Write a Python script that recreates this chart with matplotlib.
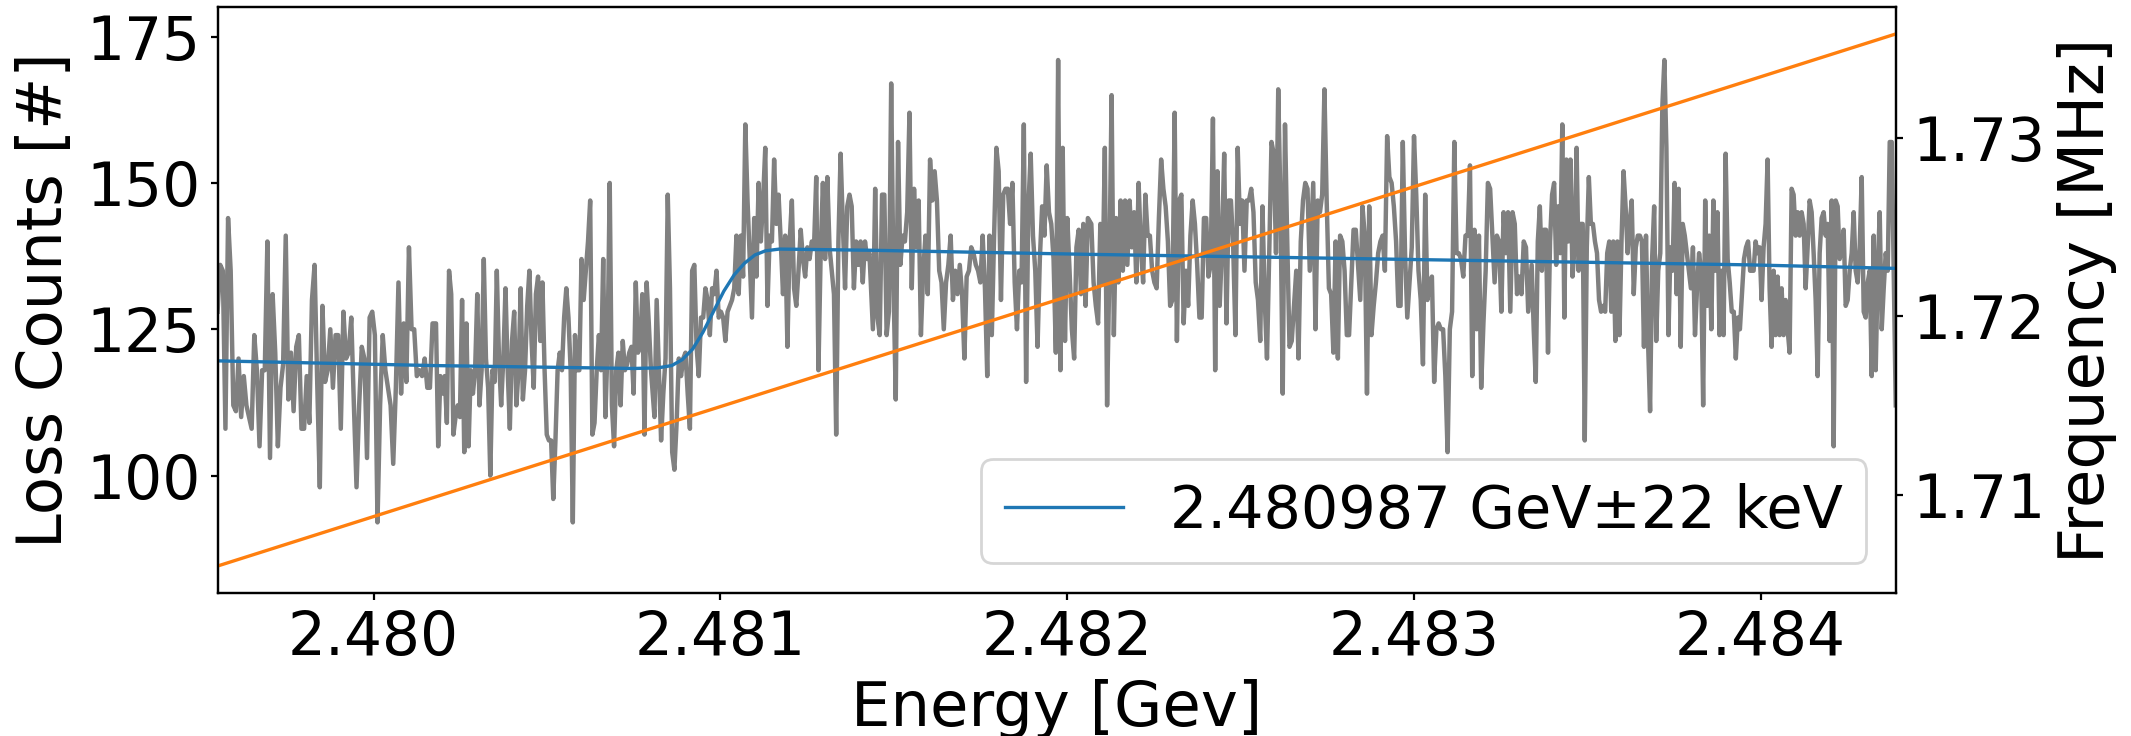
import numpy as np
import matplotlib
matplotlib.use("Agg")
import matplotlib.pyplot as plt
from matplotlib.ticker import FormatStrFormatter

# measured loss counts, read in 8 consecutive energy windows [GeV]
seg_bounds = [(2.47955, 2.48017), (2.48018, 2.48080), (2.48081, 2.48143), (2.48144, 2.48206),
              (2.48207, 2.48270), (2.48271, 2.48333), (2.48334, 2.48397), (2.48398, 2.48439)]

counts_1 = [128, 136, 135, 108, 144, 135, 112, 111, 120, 110, 117, 112, 110, 108, 124, 118, 105, 118, 118, 140,
            103, 131, 121, 105, 115, 119, 141, 113, 121, 111, 122, 124, 108, 108, 117, 109, 130, 136, 116, 98,
            129, 116, 118, 125, 115, 124, 124, 108, 128, 120, 121, 127, 112, 98, 112, 122, 120, 103, 127, 128,
            124, 92, 112, 124, 118, 115, 112, 102, 115, 133, 114, 126, 116, 139, 125, 125, 117, 118, 117, 120,
            115, 115, 126]
counts_2 = [126, 105, 117, 114, 117, 109, 135, 131, 107, 110, 112, 110, 130, 104, 126, 105, 118, 114, 118, 131,
            112, 118, 137, 120, 115, 100, 118, 116, 135, 120, 112, 120, 132, 118, 108, 123, 128, 112, 118, 132,
            113, 118, 129, 135, 123, 115, 131, 134, 123, 133, 118, 107, 106, 106, 96, 106, 118, 121, 118, 127,
            132, 127, 118, 92, 124, 118, 118, 137, 130, 135, 140, 147, 107, 109, 118, 124, 118, 137, 110, 122,
            150, 112, 105, 118, 121, 112, 123, 118, 119, 121, 122, 114, 133, 121, 122, 131, 107, 133, 126, 118]
counts_3 = [110, 130, 118, 106, 114, 120, 148, 132, 104, 101, 109, 120, 117, 120, 121, 114, 108, 135, 136, 122,
            117, 127, 127, 132, 130, 124, 132, 131, 135, 127, 128, 127, 123, 128, 129, 130, 132, 141, 131, 141,
            134, 160, 147, 137, 127, 144, 134, 150, 140, 147, 156, 129, 141, 140, 154, 143, 148, 140, 131, 141,
            122, 140, 147, 132, 129, 135, 142, 137, 134, 139, 137, 140, 139, 151, 118, 138, 150, 137, 151, 139,
            135, 131, 107, 140, 155, 143, 132, 146, 148, 146, 132, 140, 136, 140, 133, 140, 137, 138]
counts_4 = [125, 149, 127, 124, 148, 148, 124, 128, 167, 133, 113, 157, 136, 141, 140, 145, 162, 132, 149, 139,
            147, 124, 135, 141, 131, 154, 147, 152, 147, 135, 133, 125, 133, 136, 141, 130, 135, 131, 136, 131,
            120, 134, 135, 139, 138, 136, 135, 133, 141, 132, 117, 141, 124, 141, 156, 152, 130, 148, 149, 149,
            143, 150, 133, 125, 135, 133, 160, 116, 146, 155, 141, 135, 122, 137, 146, 141, 153, 145, 143, 137,
            121, 171, 118, 156, 123, 144, 135, 125, 120, 139, 142, 131, 143, 129, 144]
counts_5 = [143, 133, 129, 126, 143, 133, 156, 112, 135, 165, 124, 144, 133, 147, 135, 147, 136, 147, 139, 145,
            133, 150, 139, 133, 148, 141, 141, 135, 133, 132, 144, 154, 149, 146, 140, 129, 130, 162, 123, 147,
            148, 126, 135, 129, 141, 147, 143, 136, 127, 127, 144, 144, 134, 136, 161, 118, 152, 129, 139, 155,
            126, 147, 147, 139, 124, 156, 143, 147, 135, 147, 147, 149, 145, 133, 130, 123, 146, 130, 120, 138,
            157, 155, 138, 166, 146, 114, 160, 140, 122, 123, 129, 135, 120, 140, 147, 150, 149, 135]
counts_6 = [150, 125, 147, 145, 148, 166, 147, 132, 131, 121, 140, 120, 141, 140, 135, 124, 124, 133, 142, 142,
            136, 130, 146, 141, 114, 146, 124, 129, 133, 138, 140, 141, 135, 158, 151, 150, 146, 140, 129, 129,
            157, 138, 127, 133, 139, 158, 148, 135, 130, 119, 148, 130, 133, 134, 116, 125, 126, 125, 125, 117,
            104, 125, 128, 157, 138, 138, 137, 134, 141, 141, 153, 117, 142, 125, 141, 115, 126, 135, 150, 149,
            141, 133, 141, 140, 128, 145, 138, 145, 128, 145, 143, 131, 134, 131, 140, 139, 128]
counts_7 = [136, 125, 116, 140, 146, 135, 142, 142, 121, 140, 148, 150, 136, 146, 138, 160, 127, 154, 140, 154,
            134, 139, 156, 135, 143, 143, 106, 139, 151, 143, 143, 140, 138, 130, 128, 129, 128, 138, 140, 128,
            140, 123, 140, 124, 140, 152, 146, 138, 143, 147, 131, 139, 141, 141, 140, 122, 141, 123, 111, 137,
            146, 123, 135, 138, 163, 171, 156, 124, 139, 135, 150, 131, 149, 122, 143, 141, 138, 135, 132, 139,
            124, 132, 138, 135, 112, 147, 129, 141, 125, 147, 135, 145, 124, 135, 124, 155, 137, 133, 128, 128,
            120, 127, 125, 131, 137, 139, 140, 135]
counts_8 = [135, 140, 138, 139, 130, 139, 143, 154, 132, 122, 135, 124, 134, 124, 132, 124, 130, 125, 121, 149,
            148, 141, 145, 141, 145, 143, 132, 139, 147, 145, 138, 130, 117, 138, 144, 145, 141, 143, 123, 147,
            105, 147, 146, 137, 139, 142, 129, 130, 135, 138, 145, 135, 133, 139, 151, 128, 127, 133, 135, 117,
            141, 118, 135, 145, 125, 132, 138, 135, 157, 157, 135, 112]

# step fit (blue)
fit_energy = [2.47955, 2.48017, 2.48075, 2.48082, 2.48086, 2.48089, 2.48092, 2.48095, 2.48098,
              2.48101, 2.48104, 2.48107, 2.48110, 2.48113, 2.48117, 2.48143, 2.48206, 2.48270,
              2.48333, 2.48397, 2.48439]
fit_counts = [119.6, 118.8, 118.3, 118.4, 118.8, 119.8, 121.6, 124.5, 128.0,
              131.5, 134.3, 136.3, 137.7, 138.4, 138.7, 138.5, 137.8, 137.2,
              136.6, 136.0, 135.4]
fit_label = "2.480987 GeV\u00b122 keV"

# revolution frequency (orange)
freq_energy = [2.47955, 2.48439]
freq_mhz = [1.7060, 1.7358]

segments = [counts_1, counts_2, counts_3, counts_4, counts_5, counts_6, counts_7, counts_8]
energy = np.concatenate([np.linspace(a, b, len(c)) for (a, b), c in zip(seg_bounds, segments)])
counts = np.concatenate(segments)

plt.rcParams['font.family'] = 'DejaVu Sans'
fig, ax = plt.subplots(figsize=(10.655, 3.68), dpi=200)
fig.subplots_adjust(left=0.1021, right=0.8896, top=0.990, bottom=0.1948)

ax.plot(energy, counts, color='gray', lw=1.6)
ax.plot(fit_energy, fit_counts, color='C0', lw=1.2, label=fit_label)
ax.set_xlim(energy[0], energy[-1])
ax.set_ylim(80, 180)
ax.set_yticks([100, 125, 150, 175])
ax.xaxis.set_major_formatter(FormatStrFormatter('%.3f'))
ax.set_xlabel('Energy [Gev]', fontsize=22.5)
ax.set_ylabel('Loss Counts [#]', fontsize=22.5)
ax.tick_params(labelsize=21.5, length=2.5)
ax.legend(loc='lower right', fontsize=21.2)

# frequency on the right axis, drawn on top of the counts
ax2 = ax.twinx()
ax2.plot(freq_energy, freq_mhz, color='C1', lw=1.2)
ax2.yaxis.set_major_formatter(FormatStrFormatter('%.2f'))
ax2.set_yticks([1.71, 1.72, 1.73])
ax2.set_ylabel('Frequency [MHz]', fontsize=22.5)
ax2.tick_params(labelsize=21.5, length=2.5)

fig.savefig('out.png', dpi=200)
